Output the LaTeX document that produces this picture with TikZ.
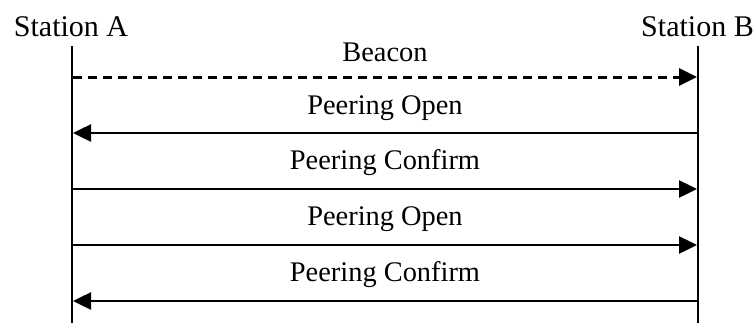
\documentclass[tikz,border=0pt]{standalone}
\usepackage{fontspec}
\setmainfont{Liberation Serif}
\usetikzlibrary{arrows.meta}
\begin{document}
\begin{tikzpicture}[x=1pt,y=1pt,
  station/.style={anchor=base,inner sep=0pt,font=\fontsize{30}{36}\selectfont},
  lifeline/.style={line width=2.5pt},
  msg/.style={line width=2.5pt,-{Triangle[length=18pt,width=17pt]}},
  beaconmsg/.style={msg,dash pattern=on 9pt off 6pt,line width=3pt},
  msglabel/.style={anchor=base,inner sep=0pt,font=\fontsize{28.4}{34}\selectfont}]
  \useasboundingbox (0,0) rectangle (756,-322);
  % participants
  \node[station] (A) at (71,-36.5) {Station A};
  \node[station] (B) at (697.5,-36.5) {Station B};
  % lifeline ends
  \coordinate (Atop) at (72,-46);
  \coordinate (Abot) at (72,-324);
  \coordinate (Btop) at (698,-46);
  \coordinate (Bbot) at (698,-324);
  \draw[lifeline] (Atop) -- (Abot);
  \draw[lifeline] (Btop) -- (Bbot);
  % message endpoints on each lifeline
  \foreach \i/\y in {1/-77,2/-133,3/-189,4/-245,5/-301}{
    \coordinate (a\i) at (73,\y);
    \coordinate (b\i) at (697,\y);
  }
  % messages
  \draw[beaconmsg] (a1) -- node[msglabel,above=14pt] {Beacon} (b1);
  \draw[msg] (b2) -- node[msglabel,above=11pt] {Peering Open} (a2);
  \draw[msg] (a3) -- node[msglabel,above=12pt] {Peering Confirm} (b3);
  \draw[msg] (a4) -- node[msglabel,above=12pt] {Peering Open} (b4);
  \draw[msg] (b5) -- node[msglabel,above=12pt] {Peering Confirm} (a5);
\end{tikzpicture}
\end{document}
